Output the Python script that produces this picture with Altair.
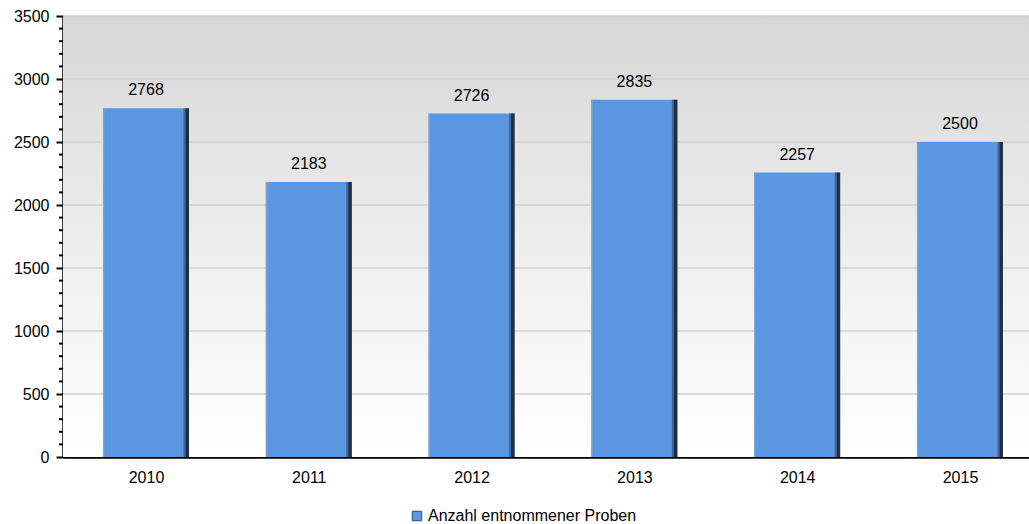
import altair as alt
import pandas as pd

years = [2010, 2011, 2012, 2013, 2014, 2015]
values = [2768, 2183, 2726, 2835, 2257, 2500]
series_name = "Anzahl entnommener Proben"
major_ticks = [0, 500, 1000, 1500, 2000, 2500, 3000, 3500]
minor_ticks = [v for v in range(0, 3501, 100) if v % 500 != 0]

df = pd.DataFrame({"year": years, "value": values, "series": [series_name] * len(years)})
grid_df = pd.DataFrame({"g": major_ticks[1:]})
minor_df = pd.DataFrame({"m": minor_ticks})

FONT = "Liberation Sans"
FS = 16
W, H = 966, 441

xscale = alt.Scale(domain=[2009.49, 2015.424], nice=False, zero=False, padding=0)
yscale = alt.Scale(domain=[0, 3500], nice=False)

y_axis = alt.Axis(values=major_ticks, title=None,
                  labelFontSize=FS, labelFont=FONT, labelColor="#000",
                  labelPadding=7, format="d", labelOverlap=False,
                  tickSize=7, tickColor="#000", tickWidth=2,
                  domainColor="#000", domainWidth=2.5,
                  grid=False)
x_axis = alt.Axis(values=years, format="d", title=None, tickSize=0,
                  labelFontSize=FS, labelFont=FONT, labelColor="#000",
                  labelPadding=12, domainColor="#000", domainWidth=2.5,
                  labelOverlap=False, grid=False)

background = alt.Chart(pd.DataFrame({"k": [0]})).mark_rect(
    fill=alt.LinearGradient(gradient="linear", x1=0, x2=0, y1=0, y2=1,
                            stops=[alt.GradientStop(color="#d6d6d6", offset=0),
                                   alt.GradientStop(color="#efefef", offset=0.55),
                                   alt.GradientStop(color="#ffffff", offset=1)])
).encode(x=alt.value(0), x2=alt.value(W), y=alt.value(0), y2=alt.value(H))

grid = alt.Chart(grid_df).mark_rule(color="#d0d0d0", strokeWidth=1.5).encode(
    y=alt.Y("g:Q", scale=yscale, axis=y_axis),
    x=alt.value(0), x2=alt.value(W),
)

minor = alt.Chart(minor_df).mark_rule(color="#000", strokeWidth=2).encode(
    y=alt.Y("m:Q", scale=yscale),
    x=alt.value(-4), x2=alt.value(0),
)

base = alt.Chart(df)

bars = base.mark_bar(size=86).encode(
    x=alt.X("year:Q", scale=xscale, axis=x_axis),
    y=alt.Y("value:Q", scale=yscale),
    color=alt.Color("series:N", scale=alt.Scale(domain=[series_name], range=["#5b97e0"]),
                    legend=alt.Legend(title=None, orient="none", legendX=346, legendY=492,
                                      symbolType="square", symbolSize=90,
                                      symbolStrokeColor="#2b4a74", symbolStrokeWidth=1,
                                      labelFontSize=FS, labelFont=FONT, labelColor="#000",
                                      labelOffset=3, labelLimit=0)),
)

left_edge = base.mark_bar(size=1.5, xOffset=-42.3, color="#8a9fba").encode(
    x=alt.X("year:Q", scale=xscale), y=alt.Y("value:Q", scale=yscale))
inner_right = base.mark_bar(size=2, xOffset=38.5, color="#3c67a0").encode(
    x=alt.X("year:Q", scale=xscale), y=alt.Y("value:Q", scale=yscale))
right_edge = base.mark_bar(size=3.5, xOffset=41.2, color="#1d3049").encode(
    x=alt.X("year:Q", scale=xscale), y=alt.Y("value:Q", scale=yscale))

labels = base.mark_text(baseline="alphabetic", dy=-13, fontSize=FS, font=FONT, color="#000").encode(
    x=alt.X("year:Q", scale=xscale),
    y=alt.Y("value:Q", scale=yscale),
    text=alt.Text("value:Q", format="d"),
)

chart = alt.layer(background, grid, minor, bars, left_edge, inner_right, right_edge, labels).properties(
    width=W, height=H,
    autosize=alt.AutoSizeParams(type="none"),
    padding={"left": 63, "top": 16, "right": 0, "bottom": 67},
).configure_view(stroke=None).configure(background="#ffffff")

chart.save("out.html", embed_options={"renderer": "svg", "actions": False})
